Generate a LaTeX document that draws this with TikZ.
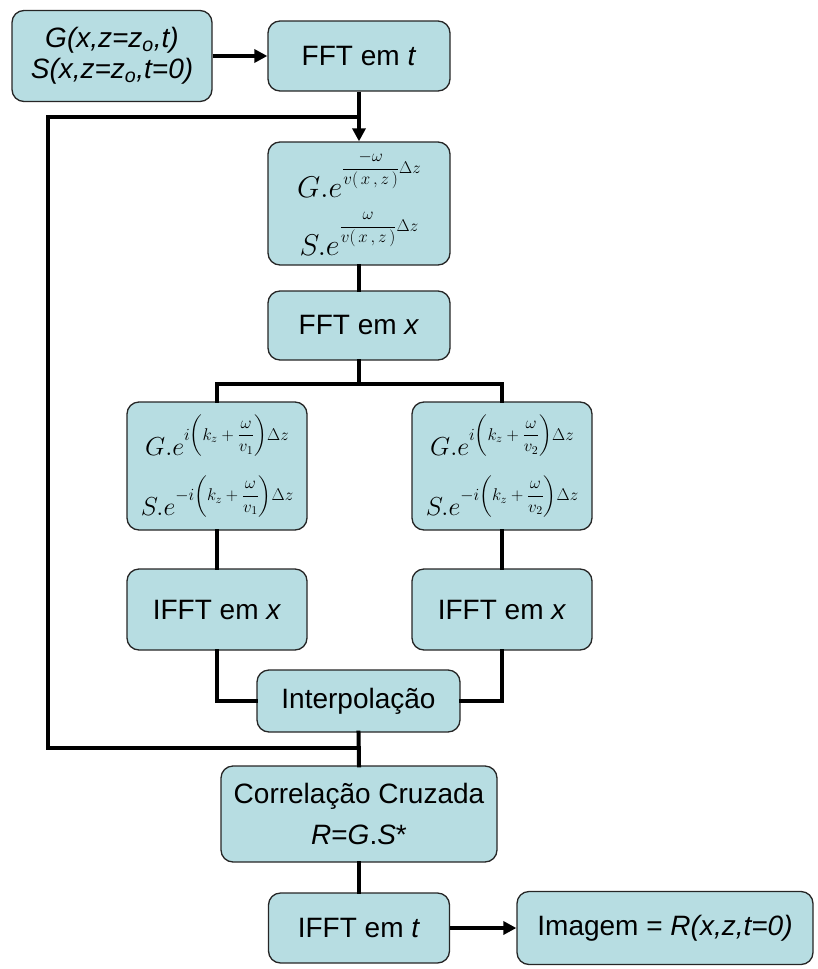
\RequirePackage{fix-cm}
\documentclass[tikz,border=0pt]{standalone}
\usepackage{amsmath}
\usepackage{fontspec}
\setmainfont{Liberation Sans}
\usetikzlibrary{arrows.meta}
\definecolor{boxfill}{RGB}{183,221,226}
\newcommand{\txt}{\fontsize{28}{31}\selectfont}
\newcommand{\mthA}{\fontsize{30}{36}\selectfont}
\newcommand{\mthB}{\fontsize{26}{32}\selectfont}
\newcommand{\expsize}{\fontsize{17}{20}\selectfont}
% raised exponent: fraction omega / v(x,z) followed by Delta z
\newcommand{\propexp}[1]{\raisebox{24pt}{\expsize$\textstyle
  \dfrac{#1\omega}{v(\,x\,,z\,)}\Delta z$}}
% raised exponent: (k_z + omega/v_n) Delta z
\newcommand{\phexp}[2]{\raisebox{15pt}{\expsize$\textstyle #1{\left(k_z+
  \dfrac{\omega}{v_{#2}}\right)}\Delta z$}}
\begin{document}
\begin{tikzpicture}[x=1pt,y=-1pt,
  flowbox/.style={draw=black!85, line width=1.3pt, fill=boxfill,
    rounded corners=12pt, align=center, inner sep=0pt, font=\txt},
  link/.style={line width=4pt, line cap=rect},
  arrowlink/.style={line width=4pt, -{Triangle[length=13pt,width=13pt]}}]
\useasboundingbox (0,0) rectangle (818,969);

% boxes
\node[flowbox, minimum width=200pt, minimum height=91pt] (inp) at (112,56)
  {\itshape G(x,z=z\textsubscript{o},t)\\ \itshape S(x,z=z\textsubscript{o},t=0)};
\node[flowbox, minimum width=182pt, minimum height=70pt] (fftt) at (359,56)
  {FFT em \textit{t}};
\node[flowbox, minimum width=182pt, minimum height=123pt, font=\mthA] (prop) at (359,203.5)
  {$G.e$\propexp{-}\\[14pt]
   $S.e$\propexp{}};
\node[flowbox, minimum width=182pt, minimum height=69pt] (fftx) at (359,325.5)
  {FFT em \textit{x}};
\node[flowbox, minimum width=180pt, minimum height=128pt, font=\mthB] (ph1) at (217,466)
  {$G.e$\phexp{i}{1}\\[18pt]
   $S.e$\phexp{-i}{1}};
\node[flowbox, minimum width=180pt, minimum height=128pt, font=\mthB] (ph2) at (502,466)
  {$G.e$\phexp{i}{2}\\[18pt]
   $S.e$\phexp{-i}{2}};
\node[flowbox, minimum width=180pt, minimum height=81pt] (ifx1) at (217,609.5)
  {IFFT em \textit{x}};
\node[flowbox, minimum width=180pt, minimum height=81pt] (ifx2) at (502,609.5)
  {IFFT em \textit{x}};
\node[flowbox, minimum width=203pt, minimum height=62pt] (interp) at (358.5,701)
  {Interpola\c{c}\~ao};
\node[flowbox, minimum width=276pt, minimum height=96pt] (corr) at (359,814)
  {Correla\c{c}\~ao Cruzada\\[10pt] \textit{R}=\textit{G}.\textit{S}*};
\node[flowbox, minimum width=181pt, minimum height=70pt] (ifft) at (359,928)
  {IFFT em \textit{t}};
\node[flowbox, minimum width=296pt, minimum height=73pt] (img) at (665,928)
  {Imagem = \textit{R(x,z,t=0)}};

% junction points
\coordinate (top) at (359,117);
\coordinate (split) at (359,384);
\coordinate (fb) at (359,748);
\coordinate (fbl) at (48,748);
\coordinate (fbt) at (48,117);

% connectors
\draw[arrowlink] (inp.east) -- (fftt.west);
\draw[arrowlink] (fftt.south) -- (prop.north);
\draw[link] (prop.south) -- (fftx.north);
\draw[link] (fftx.south) -- (split);
\draw[link] (split) -| (ph1.north);
\draw[link] (split) -| (ph2.north);
\draw[link] (ph1.south) -- (ifx1.north);
\draw[link] (ph2.south) -- (ifx2.north);
\draw[link] (ifx1.south) |- (interp.west);
\draw[link] (ifx2.south) |- (interp.east);
\draw[link] (interp.south) -- (corr.north);
\draw[link] (corr.south) -- (ifft.north);
\draw[arrowlink] (ifft.east) -- (img.west);
\draw[link] (fb) -- (fbl) -- (fbt) -- (top);
\end{tikzpicture}
\end{document}
